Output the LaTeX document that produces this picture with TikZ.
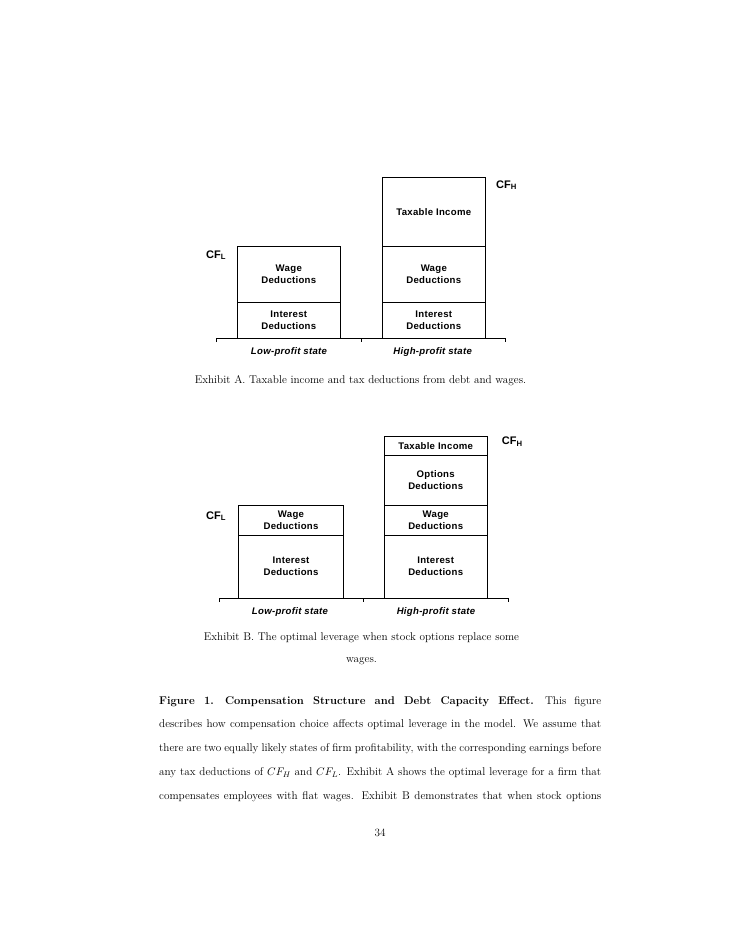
\documentclass[tikz,border=0pt]{standalone}
\usepackage{fontspec}
\setsansfont{Liberation Sans}
\newfontfamily\boxfont[LetterSpace=3]{Liberation Sans}
\usetikzlibrary{positioning}

\begin{document}
\begin{tikzpicture}[
  x=1pt, y=-1pt,
  font=\boxfont\bfseries\fontsize{9.6}{12}\selectfont,
  slab/.style={draw, line width=0.8pt, inner sep=0pt, align=center, minimum width=103pt},
  cflab/.style={anchor=base west, inner sep=0pt, font=\sffamily\bfseries\fontsize{11}{13}\selectfont},
  statelab/.style={font=\boxfont\bfseries\itshape\fontsize{9.6}{12}\selectfont},
  axis/.style={line width=0.8pt},
  capt/.style={anchor=base, inner sep=0pt, align=center, font=\rmfamily\mdseries\fontsize{11.2}{22}\selectfont},
]
\useasboundingbox[fill=white] (0,0) rectangle (728,942);

% ================= EXHIBIT A: flat wages =================
% low-profit column
\node[slab, minimum height=55.7pt] (AlowW) at (288.8,274.2) {Wage\\Deductions};
\node[slab, minimum height=36pt]   (AlowI) at (288.8,320)   {Interest\\Deductions};
% high-profit column
\node[slab, minimum height=69pt]   (AhighT) at (433.8,211.8) {Taxable Income};
\node[slab, minimum height=55.7pt] (AhighW) at (433.8,274.2) {Wage\\Deductions};
\node[slab, minimum height=36pt]   (AhighI) at (433.8,320)   {Interest\\Deductions};

% axis
\coordinate (AaxL) at (216,338);
\coordinate (AaxM) at (361.3,338);
\coordinate (AaxR) at (505.3,338);
\draw[axis] (AaxL) ++(0,4) -- (AaxL) -- (AaxR) -- ++(0,4);
\draw[axis] (AaxM) -- ++(0,4);

\node[statelab] (AlowS)  at (289,352)   {Low-profit state};
\node[statelab] (AhighS) at (432.7,352) {High-profit state};
\node[cflab] (ACFL) at (206,258.3) {CF\textsubscript{L}};
\node[cflab] (ACFH) at (496,188.3) {CF\textsubscript{H}};

\node[capt] (capA) at (360.5,383) {Exhibit A. Taxable income and tax deductions from debt and wages.};

% ================= EXHIBIT B: options replace wages =================
% low-profit column
\node[slab, minimum width=104.6pt, minimum height=30pt]   (BlowW) at (291,520.3) {Wage\\Deductions};
\node[slab, minimum width=104.6pt, minimum height=62.7pt] (BlowI) at (291,566.7) {Interest\\Deductions};
% high-profit column
\node[slab, minimum height=19pt]   (BhighT) at (435.7,445.8) {Taxable Income};
\node[slab, minimum height=50pt]   (BhighO) at (435.7,480.3) {Options\\Deductions};
\node[slab, minimum height=30pt]   (BhighW) at (435.7,520.3) {Wage\\Deductions};
\node[slab, minimum height=62.7pt] (BhighI) at (435.7,566.7) {Interest\\Deductions};

% axis
\coordinate (BaxL) at (219.3,598);
\coordinate (BaxM) at (363.3,598);
\coordinate (BaxR) at (508.3,598);
\draw[axis] (BaxL) ++(0,4) -- (BaxL) -- (BaxR) -- ++(0,4);
\draw[axis] (BaxM) -- ++(0,4);

\node[statelab] (BlowS)  at (290,612) {Low-profit state};
\node[statelab] (BhighS) at (436,612) {High-profit state};
\node[cflab] (BCFL) at (206,519.3)   {CF\textsubscript{L}};
\node[cflab] (BCFH) at (501.7,444.7) {CF\textsubscript{H}};

% base of a two-line caption sits on its last line
\node[capt] (capB) at (361.5,662.7) {Exhibit B. The optimal leverage when stock options replace some\\wages.};

% ---------- figure caption ----------
\node[anchor=base west, inner sep=0pt, text width=442pt, align=justify,
      font=\rmfamily\mdseries\fontsize{11.2}{23.8}\selectfont] (figcap) at (159,704) {%
  \textbf{Figure 1.\quad Compensation Structure and Debt Capacity Effect.}\quad This figure\linebreak
  describes how compensation choice affects optimal leverage in the model. We assume that\linebreak
  there are two equally likely states of firm profitability, with the corresponding earnings before\linebreak
  any tax deductions of $CF_H$ and $CF_L$. Exhibit A shows the optimal leverage for a firm that\linebreak
  compensates employees with flat wages. Exhibit B demonstrates that when stock options\parfillskip=0pt\par};

\node[capt] (pageno) at (380,836) {34};
\end{tikzpicture}
\end{document}
